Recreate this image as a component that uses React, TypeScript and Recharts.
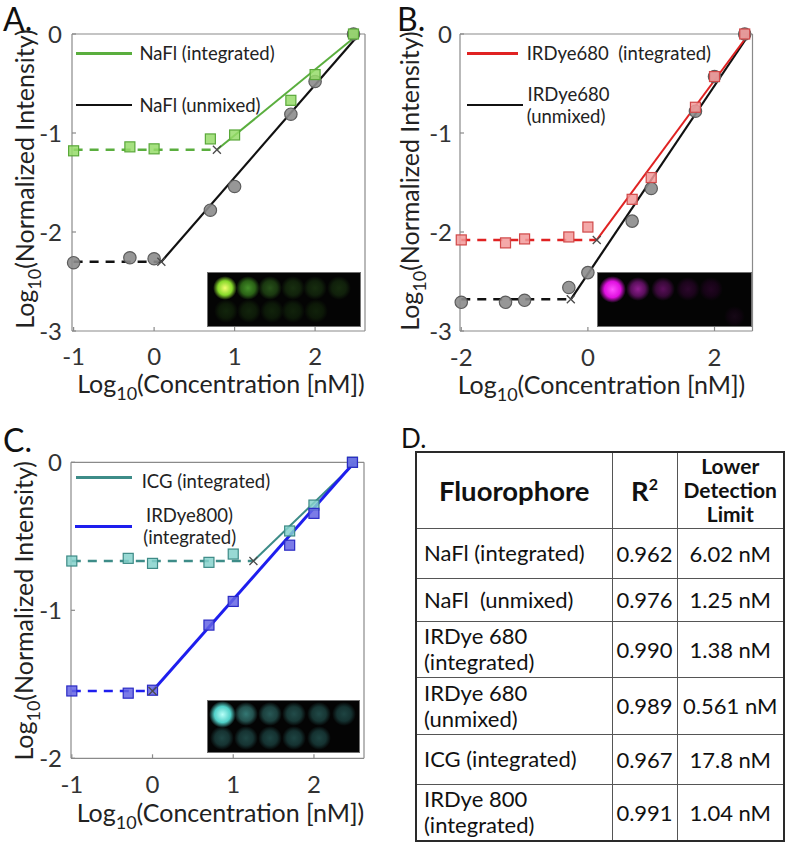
import React from "react";
import { ComposedChart, Line, Scatter, XAxis, YAxis } from "recharts";

type Pt = { x: number; y: number };

// log10 concentration [nM] and log10 normalized intensity
const concA = [-1, -0.301, 0, 0.699, 1, 1.699, 2, 2.477];
const nafIntegrated = [-1.18, -1.14, -1.16, -1.06, -1.02, -0.67, -0.41, 0];
const nafUnmixed = [-2.31, -2.26, -2.27, -1.78, -1.54, -0.81, -0.48, 0];
// fits: plateau start, breakpoint (x mark), end of linear part
const nafIntFitX = [-1, 0.78, 2.54];
const nafIntFitY = [-1.17, -1.17, 0];
const nafUnmFitX = [-1, 0.09, 2.55];
const nafUnmFitY = [-2.3, -2.3, 0];

const concB = [-2, -1.301, -1, -0.301, 0, 0.699, 1, 1.699, 2, 2.477];
const ird680Integrated = [-2.08, -2.11, -2.07, -2.05, -1.95, -1.67, -1.45, -0.74, -0.43, 0];
const ird680Unmixed = [-2.71, -2.71, -2.69, -2.56, -2.41, -1.89, -1.56, -0.78, -0.43, 0];
const ird680IntFitX = [-2, 0.14, 2.54];
const ird680IntFitY = [-2.08, -2.08, 0];
const ird680UnmFitX = [-2, -0.27, 2.55];
const ird680UnmFitY = [-2.68, -2.68, 0];

const concC = [-1, -0.301, 0, 0.699, 1, 1.699, 2, 2.477];
const icgIntegrated = [-0.667, -0.649, -0.683, -0.676, -0.62, -0.464, -0.289, 0];
const ird800Integrated = [-1.545, -1.56, -1.54, -1.1, -0.94, -0.56, -0.345, 0];
const icgFitX = [-1, 1.25, 2.52];
const icgFitY = [-0.667, -0.667, 0];
const ird800FitX = [-1, 0, 2.5];
const ird800FitY = [-1.545, -1.545, 0];

const ticksAx = [-1, 0, 1, 2];
const ticksBx = [-2, 0, 2];
const ticksABy = [-3, -2, -1, 0];
const ticksCy = [-2, -1, 0];

// table D
const fluorophores = [
  "NaFl (integrated)",
  "NaFl  (unmixed)",
  "IRDye 680\n(integrated)",
  "IRDye 680\n(unmixed)",
  "ICG (integrated)",
  "IRDye 800\n(integrated)",
];
const rSquared = ["0.962", "0.976", "0.990", "0.989", "0.967", "0.991"];
const detectionLimits = ["6.02 nM", "1.25 nM", "1.38 nM", "0.561 nM", "17.8 nM", "1.04 nM"];
const rowHeights = [50, 43, 56, 57, 50, 57];

const FONT = "Lato, 'Open Sans', Arial, sans-serif";
const BOX = "#8a8a8a";
const TICK_TEXT = "#333333";
const TITLE_TEXT = "#222222";

function toPts(xs: number[], ys: number[]): Pt[] {
  return xs.map((x, i) => ({ x, y: ys[i] }));
}

interface Series {
  name: string;
  points: Pt[];
  fit: Pt[];
  line: string;
  fill: string;
  edge: string;
  marker: "circle" | "square";
  lineWidth: number;
}

interface PanelCfg {
  left: number;
  top: number;
  width: number;
  height: number;
  plot: { left: number; top: number; right: number; bottom: number };
  xDomain: [number, number];
  xTicks: number[];
  yDomain: [number, number];
  yTicks: number[];
  xTickMargin: number;
  yTickMargin: number;
  xTitle: { x: number; y: number };
  yTitle: { x: number; y: number };
  series: Series[];
}

const GRAY = { line: "#111111", fill: "#8c8c8c", edge: "#5c5c5c" };

const panelA: PanelCfg = {
  left: 0,
  top: 0,
  width: 390,
  height: 420,
  plot: { left: 72, top: 34, right: 365, bottom: 331 },
  xDomain: [-1.02, 2.62],
  xTicks: ticksAx,
  yDomain: [-3, 0],
  yTicks: ticksABy,
  xTickMargin: 21,
  yTickMargin: 14,
  xTitle: { x: 221, y: 393 },
  yTitle: { x: 33.5, y: 179 },
  series: [
    { name: "NaFl (unmixed)", points: toPts(concA, nafUnmixed), fit: toPts(nafUnmFitX, nafUnmFitY), ...GRAY, marker: "circle", lineWidth: 2.2 },
    { name: "NaFl (integrated)", points: toPts(concA, nafIntegrated), fit: toPts(nafIntFitX, nafIntFitY), line: "#5aae3e", fill: "#96dc6a", edge: "#5aa83a", marker: "square", lineWidth: 2 },
  ],
};

const panelB: PanelCfg = {
  left: 390,
  top: 0,
  width: 397,
  height: 420,
  plot: { left: 70, top: 34, right: 362.5, bottom: 331 },
  xDomain: [-2.02, 2.6],
  xTicks: ticksBx,
  yDomain: [-3, 0],
  yTicks: ticksABy,
  xTickMargin: 22,
  yTickMargin: 12,
  xTitle: { x: 211.5, y: 394 },
  yTitle: { x: 28.5, y: 181 },
  series: [
    { name: "IRDye680 (unmixed)", points: toPts(concB, ird680Unmixed), fit: toPts(ird680UnmFitX, ird680UnmFitY), ...GRAY, marker: "circle", lineWidth: 2.2 },
    { name: "IRDye680 (integrated)", points: toPts(concB, ird680Integrated), fit: toPts(ird680IntFitX, ird680IntFitY), line: "#e02222", fill: "#f29a9a", edge: "#d04848", marker: "square", lineWidth: 2 },
  ],
};

const panelC: PanelCfg = {
  left: 0,
  top: 420,
  width: 400,
  height: 425,
  plot: { left: 71, top: 42.3, right: 364, bottom: 338.3 },
  xDomain: [-1.01, 2.62],
  xTicks: ticksAx,
  yDomain: [-2, 0],
  yTicks: ticksCy,
  xTickMargin: 22,
  yTickMargin: 13,
  xTitle: { x: 220.5, y: 401.5 },
  yTitle: { x: 33.5, y: 190.8 },
  series: [
    { name: "ICG (integrated)", points: toPts(concC, icgIntegrated), fit: toPts(icgFitX, icgFitY), line: "#3d8c88", fill: "#86d2cd", edge: "#3d8a86", marker: "square", lineWidth: 2 },
    { name: "IRDye800 (integrated)", points: toPts(concC, ird800Integrated), fit: toPts(ird800FitX, ird800FitY), line: "#1e1eee", fill: "#6464e4", edge: "#2a2ac4", marker: "square", lineWidth: 3 },
  ],
};

const noTick = () => <g />;

function markerShape(s: Series) {
  return (p: any) =>
    s.marker === "circle" ? (
      <circle cx={p.cx} cy={p.cy} r={6.2} fill={s.fill} fillOpacity={0.9} stroke={s.edge} strokeWidth={1.2} />
    ) : (
      <rect x={p.cx - 5} y={p.cy - 5} width={10} height={10} fill={s.fill} fillOpacity={0.85} stroke={s.edge} strokeWidth={1.2} />
    );
}

const crossShape = (p: any) => (
  <path
    d={`M${p.cx - 4},${p.cy - 4}L${p.cx + 4},${p.cy + 4}M${p.cx - 4},${p.cy + 4}L${p.cx + 4},${p.cy - 4}`}
    stroke="#4a4a4a"
    strokeWidth={1.3}
    fill="none"
  />
);

function XTitle({ x, y }: { x: number; y: number }) {
  return (
    <text x={x} y={y} textAnchor="middle" fontSize={25} fill={TITLE_TEXT} fontFamily={FONT}>
      <tspan>Log</tspan>
      <tspan dy={7} fontSize={18}>10</tspan>
      <tspan dy={-7}>(Concentration [nM])</tspan>
    </text>
  );
}

function YTitle({ x, y }: { x: number; y: number }) {
  return (
    <text x={x} y={y} transform={`rotate(-90 ${x} ${y})`} textAnchor="middle" fontSize={25} fill={TITLE_TEXT} fontFamily={FONT}>
      <tspan>Log</tspan>
      <tspan dy={7} fontSize={18}>10</tspan>
      <tspan dy={-7}>(Normalized Intensity)</tspan>
    </text>
  );
}

function Panel({ cfg }: { cfg: PanelCfg }) {
  const { left, top, width, height, plot } = cfg;
  const axisLine = { stroke: BOX, strokeWidth: 1.2 };
  const tickText = { fill: TICK_TEXT, fontSize: 24, fontFamily: FONT };
  return (
    <div style={{ position: "absolute", left, top }}>
      <ComposedChart
        width={width}
        height={height}
        margin={{ top: plot.top, right: width - plot.right, bottom: 0, left: 0 }}
      >
        <XAxis
          xAxisId="b"
          dataKey="x"
          type="number"
          domain={cfg.xDomain}
          ticks={cfg.xTicks}
          interval={0}
          height={height - plot.bottom}
          tickSize={-4}
          tickMargin={cfg.xTickMargin}
          axisLine={axisLine}
          tickLine={axisLine}
          tick={tickText}
          tickFormatter={(v) => String(v)}
          label={{ content: () => <XTitle x={cfg.xTitle.x} y={cfg.xTitle.y} /> }}
        />
        <XAxis
          xAxisId="t"
          orientation="top"
          mirror
          type="number"
          domain={cfg.xDomain}
          ticks={cfg.xTicks}
          interval={0}
          tickSize={4}
          axisLine={axisLine}
          tickLine={axisLine}
          tick={noTick}
        />
        <YAxis
          yAxisId="l"
          dataKey="y"
          type="number"
          domain={cfg.yDomain}
          ticks={cfg.yTicks}
          interval={0}
          width={plot.left}
          tickSize={-4}
          tickMargin={cfg.yTickMargin}
          axisLine={axisLine}
          tickLine={axisLine}
          tick={tickText}
          tickFormatter={(v) => String(v)}
          label={{ content: () => <YTitle x={cfg.yTitle.x} y={cfg.yTitle.y} /> }}
        />
        <YAxis
          yAxisId="r"
          orientation="right"
          mirror
          type="number"
          domain={cfg.yDomain}
          ticks={cfg.yTicks}
          interval={0}
          tickSize={4}
          axisLine={axisLine}
          tickLine={axisLine}
          tick={noTick}
        />
        {cfg.series.map((s) => (
          <Line
            key={`${s.name}-plateau`}
            xAxisId="b"
            yAxisId="l"
            data={s.fit.slice(0, 2)}
            dataKey="y"
            stroke={s.line}
            strokeWidth={2.5}
            strokeDasharray="9 7"
            dot={false}
            activeDot={false}
            isAnimationActive={false}
          />
        ))}
        {cfg.series.map((s) => (
          <Line
            key={`${s.name}-slope`}
            xAxisId="b"
            yAxisId="l"
            data={s.fit.slice(1)}
            dataKey="y"
            stroke={s.line}
            strokeWidth={s.lineWidth}
            dot={false}
            activeDot={false}
            isAnimationActive={false}
          />
        ))}
        {cfg.series.map((s) => (
          <Scatter
            key={`${s.name}-pts`}
            xAxisId="b"
            yAxisId="l"
            data={s.points}
            shape={markerShape(s)}
            isAnimationActive={false}
          />
        ))}
        {cfg.series.map((s) => (
          <Scatter
            key={`${s.name}-break`}
            xAxisId="b"
            yAxisId="l"
            data={[s.fit[1]]}
            shape={crossShape}
            isAnimationActive={false}
          />
        ))}
      </ComposedChart>
    </div>
  );
}

interface LegendItem {
  color: string;
  x1: number;
  x2: number;
  y: number;
  w: number;
  lines: { text: string; x: number; cy: number }[];
}

const legendItems: LegendItem[] = [
  { color: "#5aae3e", x1: 76, x2: 132, y: 53.3, w: 2.5, lines: [{ text: "NaFl (integrated)", x: 139.5, cy: 53 }] },
  { color: "#111111", x1: 76, x2: 132, y: 105, w: 2.5, lines: [{ text: "NaFl (unmixed)", x: 139.5, cy: 105 }] },
  { color: "#e02222", x1: 467, x2: 518, y: 53.3, w: 2.5, lines: [{ text: "IRDye680  (integrated)", x: 526.7, cy: 53 }] },
  {
    color: "#111111",
    x1: 467,
    x2: 523,
    y: 105,
    w: 2.5,
    lines: [
      { text: "IRDye680", x: 527.5, cy: 93.5 },
      { text: "(unmixed)", x: 526.7, cy: 115.5 },
    ],
  },
  { color: "#3d8c88", x1: 76, x2: 132, y: 477.7, w: 2.5, lines: [{ text: "ICG (integrated)", x: 141.7, cy: 481 }] },
  {
    color: "#1e1eee",
    x1: 75,
    x2: 132,
    y: 526.7,
    w: 3,
    lines: [
      { text: "IRDye800)", x: 146, cy: 515 },
      { text: "(integrated)", x: 143.3, cy: 537 },
    ],
  },
];

interface Spot {
  cx: number;
  cy: number;
  r: number;
  core: string;
  halo: string;
}

interface InsetCfg {
  x: number;
  y: number;
  w: number;
  h: number;
  spots: Spot[];
}

const insets: InsetCfg[] = [
  {
    x: 207,
    y: 272,
    w: 154,
    h: 55,
    spots: [
      { cx: 224, cy: 287, r: 8, core: "#f2ff70", halo: "#86d82a" },
      { cx: 247, cy: 287, r: 8, core: "#46922a", halo: "#2a6216" },
      { cx: 269, cy: 287, r: 8, core: "#28521a", halo: "#1a3810" },
      { cx: 292, cy: 287, r: 8, core: "#182f10", halo: "#11220b" },
      { cx: 314, cy: 287, r: 8, core: "#172d0f", halo: "#10200b" },
      { cx: 338, cy: 287, r: 8, core: "#162b0e", halo: "#10200b" },
      { cx: 225, cy: 310, r: 8, core: "#12250c", halo: "#0d1a08" },
      { cx: 248, cy: 310, r: 8, core: "#12240c", halo: "#0d1a08" },
      { cx: 271, cy: 310, r: 8, core: "#11230b", halo: "#0c1908" },
      { cx: 292, cy: 310, r: 8, core: "#11220b", halo: "#0c1908" },
      { cx: 315, cy: 310, r: 8, core: "#10210a", halo: "#0c1807" },
    ],
  },
  {
    x: 597,
    y: 272,
    w: 155,
    h: 55,
    spots: [
      { cx: 611.7, cy: 288, r: 9, core: "#ff50ff", halo: "#e010e0" },
      { cx: 636.7, cy: 288, r: 8, core: "#921f92", halo: "#5a0f5c" },
      { cx: 661.7, cy: 288, r: 8, core: "#5a0f5a", halo: "#380938" },
      { cx: 686.7, cy: 288, r: 8, core: "#2c072c", halo: "#1c041c" },
      { cx: 710, cy: 288, r: 8, core: "#220522", halo: "#160316" },
      { cx: 733, cy: 315, r: 7, core: "#160816", halo: "#0e040e" },
    ],
  },
  {
    x: 207,
    y: 700,
    w: 153,
    h: 53,
    spots: [
      { cx: 221, cy: 713.3, r: 9, core: "#b8fff8", halo: "#50d0c8" },
      { cx: 245, cy: 713.3, r: 8, core: "#347874", halo: "#24524f" },
      { cx: 269.3, cy: 713.3, r: 8, core: "#285856", halo: "#1c403e" },
      { cx: 293.3, cy: 713.3, r: 8, core: "#224c4a", halo: "#183836" },
      { cx: 317.7, cy: 713.3, r: 8, core: "#214a48", halo: "#173634" },
      { cx: 342.7, cy: 713.3, r: 8, core: "#1e4442", halo: "#153231" },
      { cx: 221, cy: 736.7, r: 8, core: "#1f4644", halo: "#163332" },
      { cx: 245, cy: 736.7, r: 8, core: "#1f4644", halo: "#163332" },
      { cx: 269.3, cy: 736.7, r: 8, core: "#1e4543", halo: "#153231" },
      { cx: 293.3, cy: 736.7, r: 8, core: "#1e4543", halo: "#153231" },
      { cx: 317.7, cy: 736.7, r: 8, core: "#1e4442", halo: "#153231" },
    ],
  },
];

function Inset({ cfg }: { cfg: InsetCfg }) {
  return (
    <div
      style={{
        position: "absolute",
        left: cfg.x,
        top: cfg.y,
        width: cfg.w,
        height: cfg.h,
        background: "#040404",
        border: "1px solid #707070",
        boxSizing: "border-box",
        overflow: "hidden",
      }}
    >
      {cfg.spots.map((s, i) => {
        const R = s.r * 1.5;
        return (
          <div
            key={i}
            style={{
              position: "absolute",
              left: s.cx - cfg.x - R,
              top: s.cy - cfg.y - R,
              width: R * 2,
              height: R * 2,
              borderRadius: "50%",
              background: `radial-gradient(circle, ${s.core} 0%, ${s.halo} 42%, rgba(0,0,0,0) 70%)`,
            }}
          />
        );
      })}
    </div>
  );
}

function Legends() {
  return (
    <>
      {legendItems.map((it, i) => (
        <React.Fragment key={i}>
          <div
            style={{
              position: "absolute",
              left: it.x1,
              top: it.y - it.w / 2,
              width: it.x2 - it.x1,
              height: it.w,
              background: it.color,
            }}
          />
          {it.lines.map((ln, j) => (
            <div
              key={j}
              style={{
                position: "absolute",
                left: ln.x,
                top: ln.cy - 11,
                fontSize: 18.5,
                lineHeight: "22px",
                color: TITLE_TEXT,
                whiteSpace: "pre",
              }}
            >
              {ln.text}
            </div>
          ))}
        </React.Fragment>
      ))}
    </>
  );
}

const panelLetters = [
  { text: "A.", left: 3, top: 0, size: 32 },
  { text: "B.", left: 397, top: 0, size: 32 },
  { text: "C.", left: 3, top: 421, size: 32 },
  { text: "D.", left: 401, top: 423, size: 26 },
];

function Table() {
  const cell = { border: "1.5px solid #555", padding: "0 7px", verticalAlign: "middle" as const };
  return (
    <table
      style={{
        position: "absolute",
        left: 415,
        top: 451,
        width: 368,
        borderCollapse: "collapse",
        tableLayout: "fixed",
        border: "2px solid #2a2a2a",
        color: "#111",
        fontFamily: FONT,
      }}
    >
      <colgroup>
        <col style={{ width: 196 }} />
        <col style={{ width: 65 }} />
        <col style={{ width: 107 }} />
      </colgroup>
      <tbody>
        <tr style={{ height: 76 }}>
          <th style={{ ...cell, fontSize: 27.5, textAlign: "center" }}>Fluorophore</th>
          <th style={{ ...cell, fontSize: 27.5, textAlign: "center", padding: 0 }}>
            R<sup style={{ fontSize: 16, verticalAlign: "11px" }}>2</sup>
          </th>
          <th style={{ ...cell, fontSize: 21, lineHeight: "24px", textAlign: "center", padding: 0 }}>
            Lower
            <br />
            Detection
            <br />
            Limit
          </th>
        </tr>
        {fluorophores.map((f, i) => (
          <tr key={f} style={{ height: rowHeights[i] }}>
            <td style={{ ...cell, fontSize: 22, lineHeight: "26px", whiteSpace: "pre" }}>{f}</td>
            <td style={{ ...cell, fontSize: 22, textAlign: "center", padding: 0 }}>{rSquared[i]}</td>
            <td style={{ ...cell, fontSize: 22, textAlign: "center", padding: 0, whiteSpace: "nowrap" }}>{detectionLimits[i]}</td>
          </tr>
        ))}
      </tbody>
    </table>
  );
}

export default function App() {
  return (
    <div
      style={{
        position: "absolute",
        left: 0,
        top: 0,
        width: 787,
        height: 845,
        background: "#fff",
        overflow: "hidden",
        fontFamily: FONT,
      }}
    >
      <Panel cfg={panelA} />
      <Panel cfg={panelB} />
      <Panel cfg={panelC} />
      <Legends />
      {insets.map((c, i) => (
        <Inset key={i} cfg={c} />
      ))}
      {panelLetters.map((p) => (
        <div
          key={p.text}
          style={{
            position: "absolute",
            left: p.left,
            top: p.top,
            fontSize: p.size,
            lineHeight: `${Math.round(p.size * 1.2)}px`,
            color: "#111",
          }}
        >
          {p.text}
        </div>
      ))}
      <Table />
    </div>
  );
}
